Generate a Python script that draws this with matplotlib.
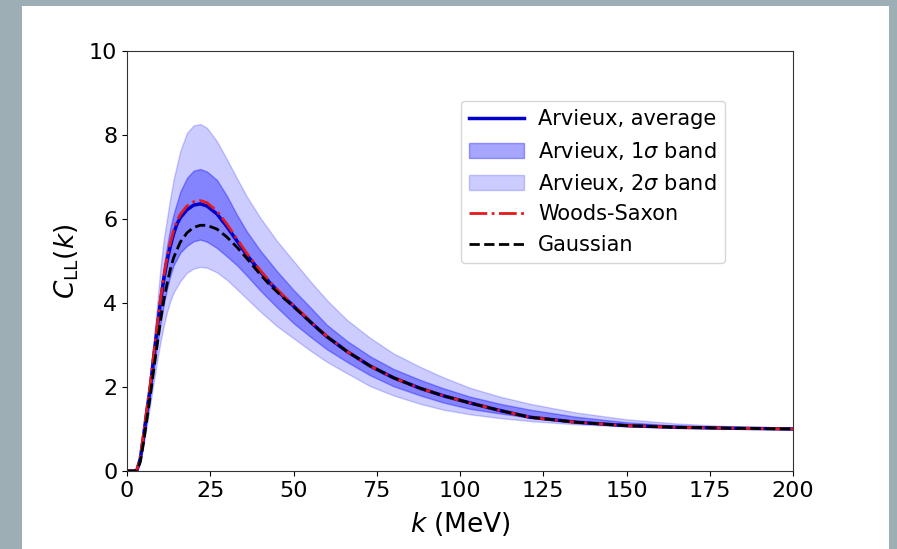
import matplotlib
matplotlib.use("Agg")
import matplotlib.pyplot as plt
from matplotlib.patches import Rectangle

# central curves
k_avg = [0, 2, 3, 4, 5, 6, 7, 8, 9, 10, 11, 12, 13, 14, 15, 16, 18, 20, 22, 24,
         27, 30, 33, 36, 40, 43, 47, 52, 56, 60, 66, 73, 80, 88, 95, 103, 112, 121,
         135, 150, 165, 180, 200]
c_avg = [0, 0, 0.02, 0.3, 0.85, 1.45, 2.0, 2.7, 3.35, 4.0, 4.55, 5.0, 5.35, 5.65,
         5.88, 6.03, 6.22, 6.33, 6.36, 6.31, 6.12, 5.82, 5.48, 5.14, 4.75, 4.47, 4.15,
         3.78, 3.48, 3.2, 2.85, 2.5, 2.22, 1.97, 1.79, 1.62, 1.44, 1.28, 1.16, 1.08,
         1.04, 1.02, 1.0]
c_ws = [0, 0, 0.03, 0.33, 0.9, 1.5, 2.07, 2.77, 3.42, 4.07, 4.62, 5.08, 5.43, 5.73,
        5.96, 6.11, 6.31, 6.41, 6.44, 6.39, 6.19, 5.88, 5.53, 5.18, 4.78, 4.49, 4.17,
        3.8, 3.49, 3.21, 2.85, 2.5, 2.22, 1.97, 1.79, 1.62, 1.44, 1.28, 1.16, 1.08,
        1.04, 1.02, 1.0]

k_gauss = [0, 2, 3, 4, 5, 6, 7, 8, 9, 10, 11, 12, 13, 14, 16, 18, 20, 22, 24, 27,
           30, 33, 36, 40, 43, 47, 52, 56, 60, 66, 73, 80, 88, 95, 103, 112, 121,
           135, 150, 165, 180, 200]
c_gauss = [0, 0, 0.01, 0.22, 0.7, 1.25, 1.8, 2.4, 2.98, 3.55, 4.05, 4.45, 4.8, 5.08,
           5.45, 5.67, 5.8, 5.85, 5.85, 5.76, 5.57, 5.33, 5.06, 4.68, 4.42, 4.12,
           3.77, 3.48, 3.2, 2.85, 2.5, 2.22, 1.97, 1.79, 1.62, 1.44, 1.28, 1.16, 1.08,
           1.04, 1.02, 1.0]

# uncertainty bands
k_band = [0, 3, 4, 5, 6, 7, 8, 9, 10, 11, 12, 13, 14, 16, 18, 20, 22, 24, 27, 30,
          33, 36, 40, 45, 50, 55, 60, 66, 73, 80, 88, 95, 103, 112, 121, 135, 150,
          165, 180, 200]
up2 = [0, 0.03, 0.38, 0.95, 1.6, 2.3, 3.1, 3.95, 4.8, 5.5, 6.0, 6.5, 6.95, 7.62, 8.05,
       8.23, 8.26, 8.17, 7.85, 7.42, 6.97, 6.53, 6.03, 5.48, 5.0, 4.52, 4.07, 3.6, 3.17,
       2.8, 2.48, 2.23, 1.98, 1.77, 1.6, 1.39, 1.23, 1.13, 1.07, 1.03]
up1 = [0, 0.02, 0.34, 0.9, 1.52, 2.15, 2.85, 3.55, 4.25, 4.85, 5.35, 5.78, 6.12, 6.65,
       6.98, 7.15, 7.19, 7.13, 6.93, 6.55, 6.1, 5.7, 5.25, 4.76, 4.31, 3.9, 3.48, 3.1,
       2.73, 2.43, 2.17, 1.97, 1.77, 1.6, 1.46, 1.29, 1.16, 1.08, 1.04, 1.01]
lo1 = [0, 0.02, 0.25, 0.72, 1.25, 1.8, 2.38, 2.95, 3.48, 3.95, 4.33, 4.65, 4.9, 5.2,
       5.36, 5.47, 5.51, 5.46, 5.31, 5.11, 4.9, 4.65, 4.3, 3.9, 3.52, 3.2, 2.9, 2.6,
       2.28, 2.02, 1.8, 1.63, 1.48, 1.37, 1.27, 1.17, 1.09, 1.04, 1.02, 1.0]
lo2 = [0, 0.01, 0.2, 0.62, 1.1, 1.6, 2.1, 2.6, 3.05, 3.45, 3.78, 4.05, 4.25, 4.52,
       4.72, 4.82, 4.86, 4.84, 4.73, 4.55, 4.33, 4.1, 3.8, 3.45, 3.16, 2.87, 2.6,
       2.33, 2.02, 1.8, 1.6, 1.46, 1.35, 1.26, 1.19, 1.11, 1.06, 1.03, 1.01, 1.0]

fig = plt.figure(figsize=(8.97, 5.49), dpi=100, facecolor="#9eaeb5")
# white panel behind the plot
fig.patches.append(Rectangle((22 / 897, 0), (889 - 22) / 897, 1 - 6 / 549,
                             transform=fig.transFigure, facecolor="white",
                             edgecolor="none", zorder=-10))

ax = fig.add_axes([0.1416, 0.1421, 0.7425, 0.765])

ax.fill_between(k_band, lo2, up2, color="blue", alpha=0.2, label=r"Arvieux, 2$\sigma$ band")
ax.fill_between(k_band, lo1, up1, color="blue", alpha=0.35, label=r"Arvieux, 1$\sigma$ band")
ax.plot(k_avg, c_avg, color="#0000cc", lw=2.5, label="Arvieux, average")
ax.plot(k_avg, c_ws, color="#e41a1c", ls="-.", lw=2, label="Woods-Saxon")
ax.plot(k_gauss, c_gauss, color="black", ls="--", lw=2, label="Gaussian")

ax.set_xlim(0, 200)
ax.set_ylim(0, 10)
ax.set_xticks(range(0, 201, 25))
ax.set_yticks(range(0, 11, 2))
ax.tick_params(labelsize=16)
for s in ax.spines.values():
    s.set_color("#333333")
ax.set_xlabel(r"$k$ (MeV)", fontsize=19, labelpad=7)
ax.set_ylabel(r"$C_{\rm LL}(k)$", fontsize=19, labelpad=6)

h, l = ax.get_legend_handles_labels()
order = [2, 1, 0, 3, 4]
ax.legend([h[i] for i in order], [l[i] for i in order], fontsize=15,
          loc="upper right", bbox_to_anchor=(0.9135, 0.906), handlelength=2.6,
          handletextpad=0.7, labelspacing=0.5)

fig.savefig("out.png", dpi=100, facecolor=fig.get_facecolor())
